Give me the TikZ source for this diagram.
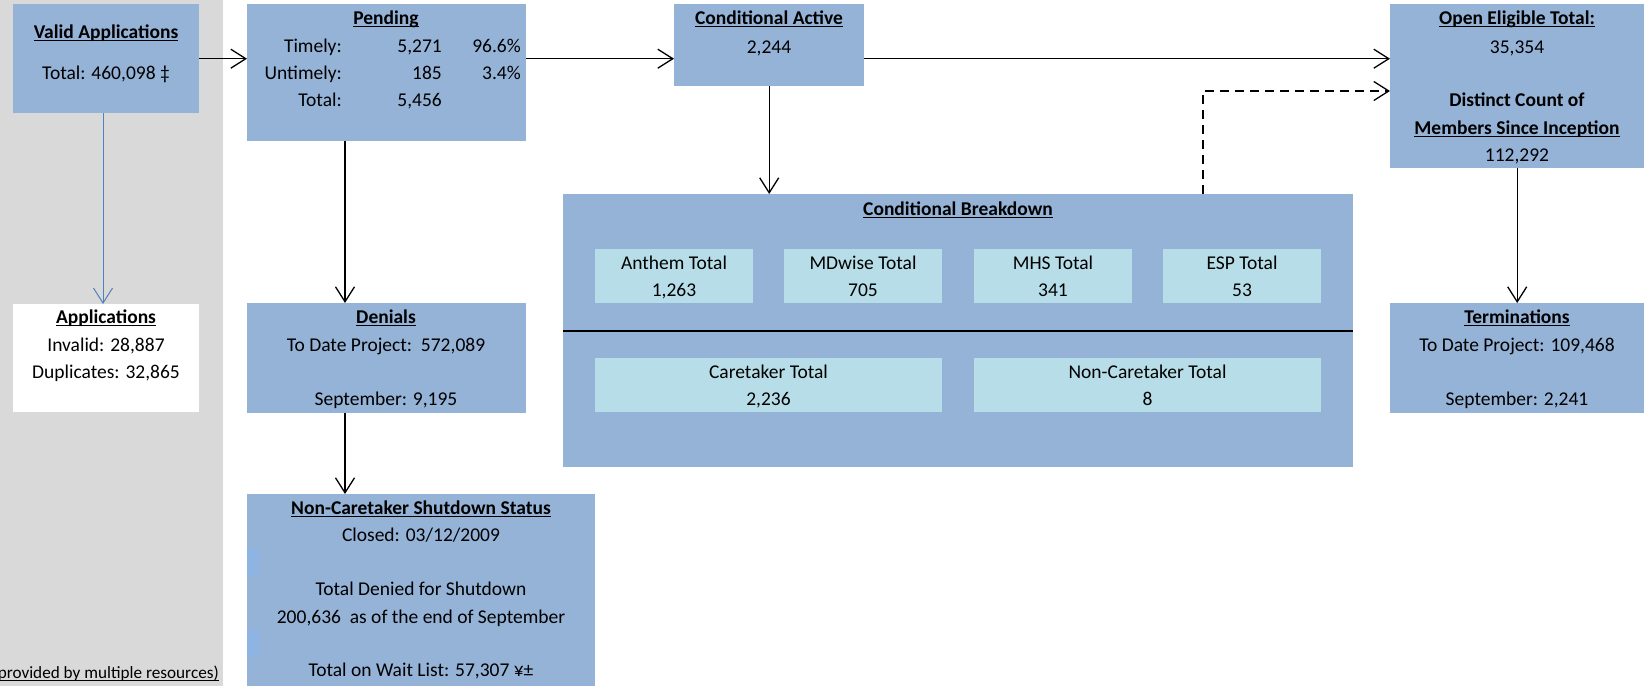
\documentclass[tikz,border=0pt]{standalone}
\usepackage{fontspec}
\setmainfont{Carlito}
\usetikzlibrary{arrows.meta}
\definecolor{boxblue}{HTML}{95B3D7}
\definecolor{cellblue}{HTML}{B7DEE8}
\definecolor{sidegray}{HTML}{D9D9D9}
\definecolor{linkblue}{HTML}{4F81BD}
\definecolor{markblue}{HTML}{8DB4E2}
\newsavebox{\ulsave}
\newcommand{\ulin}[1]{\sbox\ulsave{#1}\rlap{\rule[-2.8pt]{\wd\ulsave}{1.3pt}}\usebox\ulsave}

\begin{document}
\begin{tikzpicture}[x=1pt, y=-1pt,
		>={Straight Barb[length=15pt, width=19pt]},
		panel/.style={fill=boxblue, inner sep=0pt, anchor=north west},
		cell/.style={fill=cellblue, inner sep=0pt, anchor=north west},
		txt/.style={font=\fontsize{19.5}{23}\selectfont, inner sep=0pt, text height=12.6pt, text depth=0pt},
		head/.style={txt, font=\fontsize{19.5}{23}\selectfont\bfseries},
		flow/.style={->, line width=1.3pt}]
			\useasboundingbox (0,0) rectangle (1644,686);
			\fill[sidegray] (0,0) rectangle (223,686);

			\node[panel, minimum width=186pt, minimum height=109pt] (valid) at (13,4) {};
			\node[panel, fill=white, minimum width=186pt, minimum height=108pt] (apps) at (13,304) {};
			\node[panel, minimum width=279pt, minimum height=137pt] (pend) at (247,4) {};
			\node[panel, minimum width=279pt, minimum height=110pt] (den) at (247,303) {};
			\node[panel, minimum width=348pt, minimum height=192pt] (ncs) at (247,494) {};
			\node[panel, minimum width=190pt, minimum height=82pt] (cact) at (674,4) {};
			\node[panel, minimum width=790pt, minimum height=273pt] (brk) at (563,194) {};
			\node[panel, minimum width=254pt, minimum height=164pt] (open) at (1390,4) {};
			\node[panel, minimum width=254pt, minimum height=110pt] (term) at (1390,303) {};

			\node[cell, minimum width=158pt, minimum height=54pt] (ant) at (595,249) {};
			\node[cell, minimum width=158pt, minimum height=54pt] (mdw) at (784,249) {};
			\node[cell, minimum width=158pt, minimum height=54pt] (mhs) at (974,249) {};
			\node[cell, minimum width=158pt, minimum height=54pt] (esp) at (1163,249) {};
			\node[cell, minimum width=347pt, minimum height=54pt] (care) at (595,358) {};
			\node[cell, minimum width=347pt, minimum height=54pt] (ncare) at (974,358) {};

			\fill[markblue] (247,548) rectangle (259,575);
			\fill[markblue] (247,630) rectangle (259,657);

			\coordinate (vdown) at (103,0);
			\coordinate (pdown) at (345,0);
			\coordinate (dsh) at (1203,91);

			\draw[flow] (valid.east) -- (valid.east -| pend.west);
			\draw[flow] (pend.east |- valid.east) -- (cact.west |- valid.east);
			\draw[flow] (cact.east |- valid.east) -- (open.west |- valid.east);
			\draw[flow] (cact.south) -- (cact.south |- brk.north);
			\draw[flow, dash pattern=on 9pt off 6pt] (brk.north -| dsh) -- (dsh) -- (dsh -| open.west);
			\draw[flow] (open.south) -- (term.north);
			\draw[flow] (pend.south -| pdown) -- (den.north -| pdown);
			\draw[flow] (den.south -| pdown) -- (ncs.north -| pdown);
			\draw[flow, draw=linkblue, line width=1pt] (valid.south -| vdown) -- (apps.north -| vdown);
			\draw[line width=1.3pt] (brk.west |- 0,331) -- (brk.east |- 0,331);

			\node[head] (validt) at (106,32) {\ulin{Valid Applications}};
			\node[txt] (validv) at (106,73) {Total: 460,098 ‡};

			\node[head] (pendt) at (386,18) {\ulin{Pending}};
			\node[txt, anchor=east] (pl1) at (342,46) {Timely:};
			\node[txt, anchor=east] (pl2) at (342,73) {Untimely:};
			\node[txt, anchor=east] (pl3) at (342,100) {Total:};
			\node[txt, anchor=east] (pn1) at (442,46) {5,271};
			\node[txt, anchor=east] (pn2) at (442,73) {185};
			\node[txt, anchor=east] (pn3) at (442,100) {5,456};
			\node[txt, anchor=east] (pp1) at (521,46) {96.6\%};
			\node[txt, anchor=east] (pp2) at (521,73) {3.4\%};

			\node[head] (cactt) at (769,18) {\ulin{Conditional Active}};
			\node[txt] (cactv) at (769,47) {2,244};

			\node[head] (opent) at (1517,18) {\ulin{Open Eligible Total:}};
			\node[txt] (openv) at (1517,47) {35,354};
			\node[head] (distt) at (1517,100) {Distinct Count of};
			\node[head] (membt) at (1517,128) {\ulin{Members Since Inception}};
			\node[txt] (membv) at (1517,155) {112,292};

			\node[head] (brkt) at (958,209) {\ulin{Conditional Breakdown}};
			\node[txt] at (674,263) {Anthem Total};
			\node[txt] at (674,290) {1,263};
			\node[txt] at (863,263) {MDwise Total};
			\node[txt] at (863,290) {705};
			\node[txt] at (1053,263) {MHS Total};
			\node[txt] at (1053,290) {341};
			\node[txt] at (1242,263) {ESP Total};
			\node[txt] at (1242,290) {53};
			\node[txt] at (768.5,372) {Caretaker Total};
			\node[txt] at (768.5,399) {2,236};
			\node[txt] at (1147.5,372) {Non-Caretaker Total};
			\node[txt] at (1147.5,399) {8};

			\node[head] (appst) at (106,317) {\ulin{Applications}};
			\node[txt] at (106,345) {Invalid: 28,887};
			\node[txt] at (106,372) {Duplicates: 32,865};

			\node[head] (dent) at (386,317) {\ulin{Denials}};
			\node[txt] at (386,345) {To Date Project:\ \ 572,089};
			\node[txt] at (386,399) {September: 9,195};

			\node[head] (termt) at (1517,317) {\ulin{Terminations}};
			\node[txt] at (1517,345) {To Date Project: 109,468};
			\node[txt] at (1517,399) {September: 2,241};

			\node[head] (ncst) at (421,508) {\ulin{Non-Caretaker Shutdown Status}};
			\node[txt] at (421,535) {Closed: 03/12/2009};
			\node[txt] at (421,589) {Total Denied for Shutdown};
			\node[txt] at (421,617) {200,636\ \ as of the end of September};
			\node[txt] at (421,670) {Total on Wait List: 57,307 ¥±};

			\node[txt, font=\fontsize{17.2}{20}\selectfont, anchor=east] (note) at (219,672) {\ulin{provided by multiple resources)}};
		\end{tikzpicture}
\end{document}
